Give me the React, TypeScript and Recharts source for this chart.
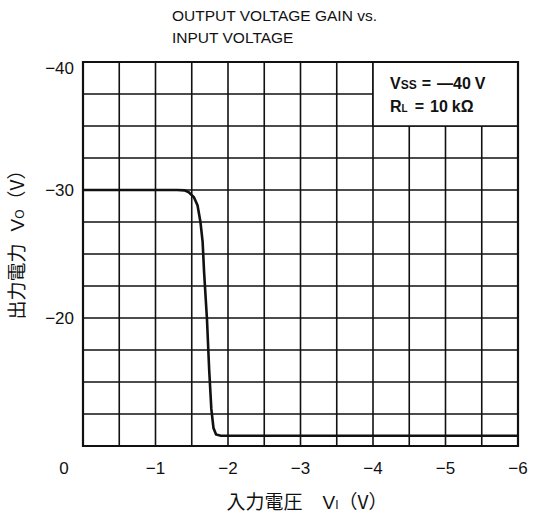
import React from "react";
import { LineChart, Line, XAxis, YAxis, CartesianGrid, ReferenceArea } from "recharts";

// input voltage (V) and output voltage (V)
const vin = [0, -0.5, -1.0, -1.3, -1.4, -1.46, -1.53, -1.58, -1.62, -1.65, -1.67, -1.71, -1.74, -1.77, -1.8, -1.835, -1.9, -2.0, -2.5, -3, -3.5, -4, -4.5, -5, -5.5, -6];
const vout = [-30, -30, -30, -30, -29.97, -29.82, -29.43, -28.79, -27.5, -25.95, -23.6, -19.9, -16.0, -12.9, -11.4, -10.9, -10.8, -10.8, -10.8, -10.8, -10.8, -10.8, -10.8, -10.8, -10.8, -10.8];

const xTicks = [0, -0.5, -1, -1.5, -2, -2.5, -3, -3.5, -4, -4.5, -5, -5.5, -6];
const xLabels = [0, -1, -2, -3, -4, -5, -6];
const yTicks = [-40, -37.5, -35, -32.5, -30, -27.5, -25, -22.5, -20, -17.5, -15, -12.5, -10];
const yLabels = [-40, -30, -20];

const data = vin.map((v, i) => ({ vin: v, vout: vout[i] }));

const font = "'Liberation Sans', Arial, sans-serif";
const cjk = "'Noto Sans CJK JP', 'Liberation Sans', sans-serif";

const fmt = (v: number) => (v === 0 ? "0" : "\u2212" + Math.abs(v));

const XTick = (props: any) => {
  const { x, y, payload } = props;
  if (!xLabels.includes(payload.value)) return null;
  const dx = payload.value === 0 ? -19 : 0;
  return (
    <text x={x + dx} y={y + 20} textAnchor="middle" fontSize={17} fontFamily={font} fill="#111">
      {fmt(payload.value)}
    </text>
  );
};

const YTick = (props: any) => {
  const { x, y, payload } = props;
  if (!yLabels.includes(payload.value)) return null;
  const dy = payload.value === -40 ? 6 : 0;
  return (
    <text x={x - 1} y={y + dy + 6} textAnchor="end" fontSize={17} fontFamily={font} fill="#111">
      {fmt(payload.value)}
    </text>
  );
};

const NoteLabel = (props: any) => {
  const vb = props.viewBox || {};
  const x0 = vb.x + 17;
  const y0 = vb.y;
  return (
    <g fontFamily={font} fontWeight="bold" fill="#111">
      <text x={x0} y={y0 + 27} fontSize={16}>
        V<tspan fontSize={12}>SS</tspan>
        <tspan dx={5}>=</tspan>
        <tspan dx={6}>{"\u2014"}40</tspan>
        <tspan dx={4}>V</tspan>
      </text>
      <text x={x0} y={y0 + 50} fontSize={16}>
        R<tspan fontSize={10}>L</tspan>
        <tspan dx={7}>=</tspan>
        <tspan dx={6}>10</tspan>
        <tspan dx={4}>k{"\u03A9"}</tspan>
      </text>
    </g>
  );
};

export default function App() {
  return (
    <div style={{ position: "absolute", left: 0, top: 0, width: 533, height: 515, background: "#fff" }}>
      <div style={{ position: "absolute", left: 172, top: 5, fontFamily: font, fontSize: 15.5, lineHeight: "22px", color: "#111" }}>
        OUTPUT VOLTAGE GAIN vs.
        <br />
        INPUT VOLTAGE
      </div>
      <LineChart width={533} height={515} data={data} margin={{ top: 62, right: 15, bottom: 29, left: 13 }}>
        <CartesianGrid stroke="#111" strokeWidth={1.6} fill="#fff" />
        <XAxis
          type="number"
          dataKey="vin"
          domain={[-6, 0]}
          reversed
          ticks={xTicks}
          interval={0}
          axisLine={false}
          tickLine={false}
          height={40}
          tick={<XTick />}
        />
        <YAxis
          type="number"
          domain={[-40, -10]}
          reversed
          ticks={yTicks}
          interval={0}
          axisLine={false}
          tickLine={false}
          width={70}
          tick={<YTick />}
        />
        <ReferenceArea x1={-4} x2={-6} y1={-40} y2={-35} fill="#fff" fillOpacity={1} stroke="#111" strokeWidth={1.6} label={<NoteLabel />} />
        <ReferenceArea x1={0} x2={-6} y1={-40} y2={-10} fill="none" stroke="#111" strokeWidth={2.2} />
        <Line type="linear" dataKey="vout" stroke="#111" strokeWidth={2.6} dot={false} isAnimationActive={false} />
      </LineChart>
      <div
        style={{
          position: "absolute",
          left: 15,
          top: 240,
          transform: "translate(-50%, -50%) rotate(-90deg)",
          whiteSpace: "nowrap",
          fontFamily: cjk,
          fontSize: 19,
          color: "#111",
        }}
      >
        出力電力<span style={{ marginLeft: 12, fontFamily: font }}>V</span>
        <span style={{ fontSize: 12, fontFamily: font }}>O</span>（V）
      </div>
      <div
        style={{
          position: "absolute",
          left: 307,
          top: 500,
          transform: "translate(-50%, -50%)",
          whiteSpace: "nowrap",
          fontFamily: cjk,
          fontSize: 19,
          color: "#111",
        }}
      >
        入力電圧<span style={{ marginLeft: 20, fontFamily: font }}>V</span>
        <span style={{ fontSize: 12, fontFamily: font }}>I</span>（V）
      </div>
    </div>
  );
}
